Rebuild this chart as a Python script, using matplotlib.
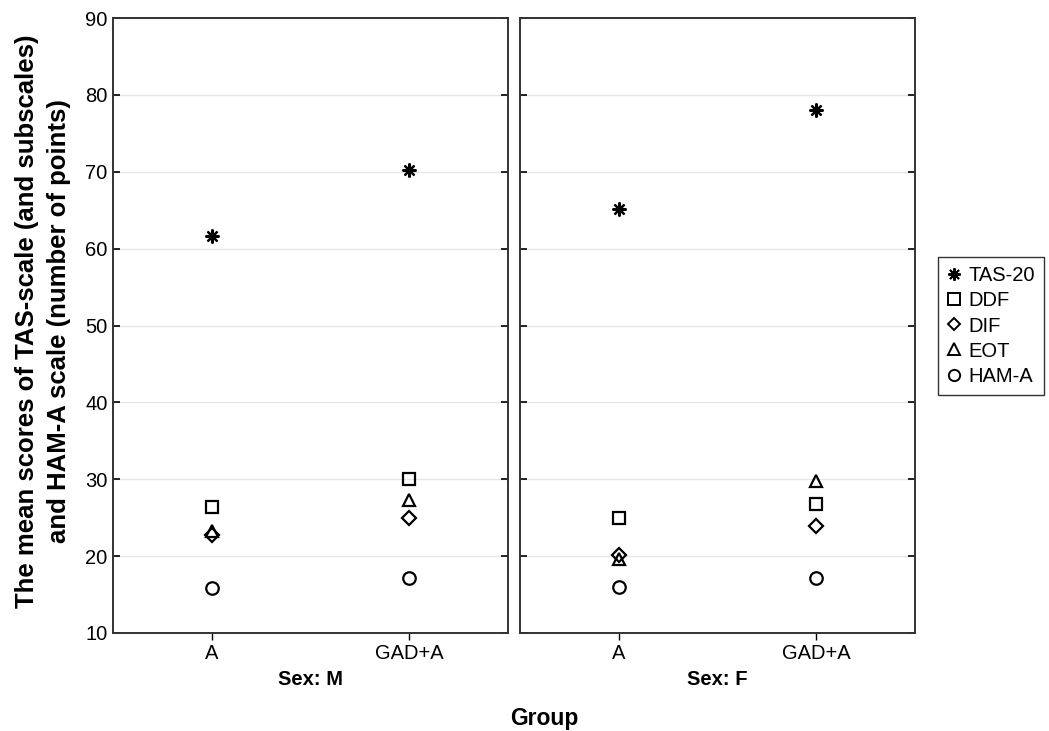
import matplotlib
matplotlib.use("Agg")
import matplotlib.pyplot as plt
from matplotlib.lines import Line2D

plt.rcParams['font.family'] = ['Liberation Sans', 'DejaVu Sans']

groups = ["A", "GAD+A"]
sexes = ["M", "F"]
series_names = ["TAS-20", "DDF", "DIF", "EOT", "HAM-A"]
# values per sex: [A, GAD+A]
tas20 = {"M": [61.7, 70.2], "F": [65.1, 78.0]}
ddf = {"M": [26.4, 30.0], "F": [25.0, 26.8]}
dif = {"M": [22.7, 25.0], "F": [20.1, 23.9]}
eot = {"M": [23.3, 27.3], "F": [19.6, 29.8]}
hama = {"M": [15.8, 17.2], "F": [16.0, 17.1]}
series_data = [tas20, ddf, dif, eot, hama]
yticks = [10, 20, 30, 40, 50, 60, 70, 80, 90]

markers = [(8, 2, 0), 's', 'D', '^', 'o']
sizes = [10, 9, 7, 9, 9]

W, H = 1049, 731
fig = plt.figure(figsize=(W / 100, H / 100), dpi=100)
top = 18
bottom = 633
ax_h = (bottom - top) / H
ax_b = 1 - bottom / H
lefts = [113, 520]
width = 395

axes = []
for i, sex in enumerate(sexes):
    ax = fig.add_axes([lefts[i] / W, ax_b, width / W, ax_h])
    axes.append(ax)
    xpos = list(range(len(groups)))
    for name, d, m, s in zip(series_names, series_data, markers, sizes):
        ax.plot(xpos, d[sex], linestyle='none', marker=m, markersize=s,
                markerfacecolor='none', markeredgecolor='black',
                markeredgewidth=1.6, color='black', label=name, zorder=3)
    ax.set_xlim(-0.5, 1.5)
    ax.set_ylim(10, 90)
    ax.set_yticks(yticks)
    ax.set_xticks(xpos)
    ax.set_xticklabels(groups)
    ax.yaxis.grid(True, color='#e6e6e6', linewidth=1.0, zorder=0)
    ax.set_axisbelow(True)
    ax.tick_params(axis='y', direction='in', length=5, width=1.2, right=True,
                   labelsize=14.5, pad=4)
    ax.tick_params(axis='x', direction='out', length=5, width=1, labelsize=14.5,
                   pad=3)
    if i == 1:
        ax.tick_params(axis='y', labelleft=False)
    for sp in ax.spines.values():
        sp.set_linewidth(1.4)
        sp.set_color('#333333')
    ax.set_xlabel(f"Sex: {sex}", fontsize=14.5, fontweight='bold')
    ax.xaxis.set_label_coords(0.5, -0.060)

fig.text(43 / W, 1 - 321 / H,
         "The mean scores of TAS-scale (and subscales)\nand HAM-A scale (number of points)",
         fontsize=18.5, fontweight='bold', rotation=90, ha='center', va='center',
         linespacing=1.45, multialignment='center')

fig.text(544 / W, 1 - 718 / H, "Group", fontsize=16.5, fontweight='bold',
         ha='center', va='center')

handles = [Line2D([], [], linestyle='none', marker=m, markersize=s * 0.9,
                  markerfacecolor='none', markeredgecolor='black',
                  markeredgewidth=1.4) for m, s in zip(markers, sizes)]
leg = fig.legend(handles, series_names, loc='center left',
                 bbox_to_anchor=(938 / W, 1 - 326 / H), fontsize=14.5,
                 frameon=True, fancybox=False, edgecolor='black',
                 handlelength=0.7, handletextpad=0.35, borderpad=0.45,
                 labelspacing=0.3, borderaxespad=0)
leg.get_frame().set_linewidth(1.0)

fig.savefig("out.png", dpi=100)
